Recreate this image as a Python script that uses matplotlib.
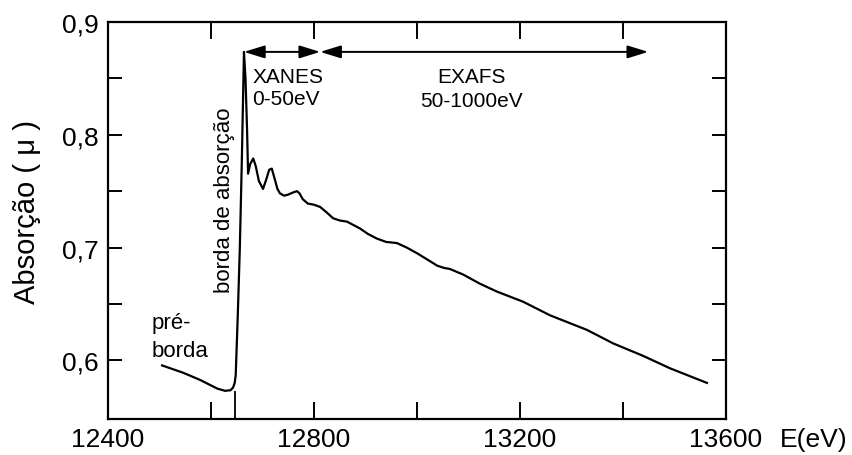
import matplotlib
matplotlib.use("Agg")
import matplotlib.pyplot as plt
from matplotlib.ticker import FixedLocator, FuncFormatter

plt.rcParams['font.family'] = ['Liberation Sans', 'DejaVu Sans']

# XAS spectrum
energy = [12505, 12546, 12579, 12612, 12627, 12638, 12643, 12646, 12648, 12652,
          12656, 12660, 12664, 12667, 12670, 12672, 12676, 12682, 12687, 12693,
          12701, 12707, 12713, 12718, 12723, 12729, 12734, 12742, 12750, 12760,
          12767, 12772, 12778, 12788, 12800, 12812, 12825, 12837, 12850, 12864,
          12889, 12905, 12922, 12940, 12961, 12980, 13000, 13025, 13039, 13052,
          13064, 13090, 13122, 13155, 13206, 13258, 13330, 13381, 13439, 13491,
          13563]
mu = [0.5955, 0.589, 0.5826, 0.575, 0.573, 0.5735, 0.576, 0.580, 0.587, 0.64,
      0.70, 0.78, 0.8735, 0.850, 0.805, 0.7655, 0.774, 0.779, 0.772, 0.759,
      0.752, 0.760, 0.769, 0.770, 0.762, 0.752, 0.748, 0.746, 0.747, 0.749,
      0.750, 0.748, 0.743, 0.739, 0.738, 0.736, 0.731, 0.726, 0.724, 0.723,
      0.717, 0.712, 0.708, 0.705, 0.704, 0.700, 0.695, 0.688, 0.684, 0.682,
      0.681, 0.676, 0.668, 0.661, 0.652, 0.640, 0.627, 0.615, 0.604, 0.593,
      0.580]

edge_e = 12647
edge_mu = 0.5725
xanes_range = [12664, 12812]
exafs_range = [12812, 13449]
arrow_mu = 0.8735

x_major = [12400, 12800, 13200, 13600]
x_minor = [12600, 13000, 13400]
y_major = [0.6, 0.7, 0.8, 0.9]
y_minor = [0.65, 0.75, 0.85]

fig = plt.figure(figsize=(8.52, 4.56), dpi=100)
ax = fig.add_axes([108/852, 1-420/456, 618/852, 397/456])

ax.plot(energy, mu, color='black', lw=1.6, solid_joinstyle='round')
ylim_bottom = 0.548
ax.set_xlim(12400, 13600)
ax.set_ylim(ylim_bottom, 0.9)
ax.vlines(edge_e, ylim_bottom, edge_mu, color='black', lw=1.3)

ax.xaxis.set_major_locator(FixedLocator(x_major))
ax.xaxis.set_minor_locator(FixedLocator(x_minor))
ax.yaxis.set_major_locator(FixedLocator(y_major))
ax.yaxis.set_minor_locator(FixedLocator(y_minor))
ax.yaxis.set_major_formatter(FuncFormatter(lambda v, p: f"{v:.1f}".replace('.', ',')))
ax.xaxis.set_major_formatter(FuncFormatter(lambda v, p: f"{int(v)}"))

ax.tick_params(axis='x', which='both', direction='in', top=True, bottom=True,
               length=12, width=1.4, pad=6, labelsize=19)
ax.tick_params(axis='y', which='both', direction='in', left=True, right=True,
               length=10, width=1.4, pad=7, labelsize=19)
for s in ax.spines.values():
    s.set_linewidth(1.6)

ax.set_ylabel('Absorção ( μ )', fontsize=21)
ax.yaxis.set_label_coords(-0.108, 0.524)

arrow_kw = dict(arrowstyle='<|-|>,head_length=0.42,head_width=0.13', color='black',
                lw=1.4, shrinkA=0, shrinkB=0, mutation_scale=30)
ax.annotate('', xy=(xanes_range[1], arrow_mu), xytext=(xanes_range[0], arrow_mu),
            arrowprops=arrow_kw)
ax.annotate('', xy=(exafs_range[1], arrow_mu), xytext=(exafs_range[0], arrow_mu),
            arrowprops=arrow_kw)

ax.text(12680, 0.842, 'XANES\n0-50eV', ha='left', va='center', fontsize=15,
        linespacing=1.25)
ax.text(13105, 0.841, 'EXAFS\n50-1000eV', ha='center', va='center', fontsize=15,
        linespacing=1.35)
ax.text(12627, 0.743, 'borda de absorção', rotation=90, ha='center', va='center',
        fontsize=16)
ax.text(12485, 0.621, 'pré-\nborda', ha='left', va='center', fontsize=16,
        linespacing=1.4)

fig.text(814/852, 1-440/456, 'E(eV)', ha='center', va='center', fontsize=19)

fig.savefig('out.png', dpi=100)
